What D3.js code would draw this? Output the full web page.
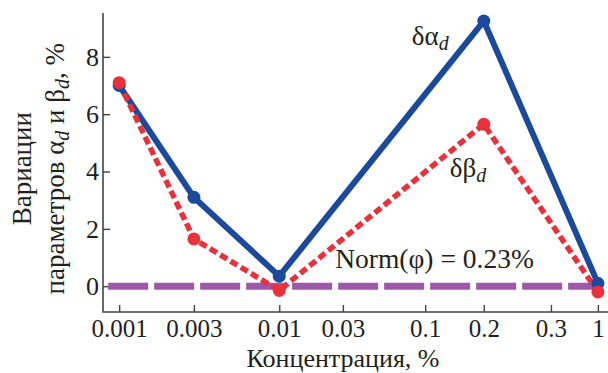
<!DOCTYPE html>
<html>
<head>
<meta charset="utf-8">
<script src="https://cdn.jsdelivr.net/npm/d3@7"></script>
<style>
  body { margin: 0; background: #fff; }
  text { font-family: "Liberation Serif", "Times New Roman", serif; fill: #231f20; }
</style>
</head>
<body>
<div id="chart"></div>
<script>
// концентрации на оси (шкала не равномерная, как в оригинале)
const concTicks = [0.001, 0.003, 0.01, 0.03, 0.1, 0.2, 0.3, 1];
const concTickLabels = ["0.001", "0.003", "0.01", "0.03", "0.1", "0.2", "0.3", "1"];
const concFrac = [0.032, 0.180, 0.349, 0.475, 0.638, 0.754, 0.887, 0.980];

const measuredConc = [0.001, 0.003, 0.01, 0.2, 1];
const deltaAlpha = [7.0, 3.1, 0.35, 9.25, 0.1];
const deltaBeta = [7.1, 1.65, -0.15, 5.65, -0.2];
const normValue = 0;

const yTicks = [0, 2, 4, 6, 8];

const breedte = 608, hoogte = 373;
const rand = { boven: 13, beneden: 61, links: 103, rechts: 0 };
const plotW = breedte - rand.links - rand.rechts;

const svg = d3.select("#chart").append("svg")
    .attr("width", breedte)
    .attr("height", hoogte);

const x = d3.scaleLinear()
    .domain(concTicks)
    .range(concFrac.map(f => rand.links + f * plotW));

const y = d3.scaleLinear()
    .domain([-0.9, 9.53])
    .range([hoogte - rand.beneden, rand.boven]);

// assen
const xAxis = svg.append("g")
    .attr("transform", `translate(0, ${hoogte - rand.beneden})`)
    .call(d3.axisBottom(x).tickValues(concTicks)
        .tickFormat((d, i) => concTickLabels[i])
        .tickSizeInner(-7).tickSizeOuter(0).tickPadding(7));
xAxis.select(".domain").remove();

const yAxis = svg.append("g")
    .attr("transform", `translate(${rand.links}, 0)`)
    .call(d3.axisLeft(y).tickValues(yTicks)
        .tickSizeInner(-7).tickSizeOuter(0).tickPadding(4));
yAxis.select(".domain").remove();

svg.selectAll(".tick line").attr("stroke", "#444").attr("stroke-width", 1.4);
xAxis.selectAll(".tick text").attr("font-size", 25).attr("fill", "#231f20");
yAxis.selectAll(".tick text").attr("font-size", 26).attr("fill", "#231f20");

svg.append("path")
    .attr("d", `M${rand.links},${rand.boven}V${hoogte - rand.beneden}H${breedte}`)
    .attr("fill", "none").attr("stroke", "#444").attr("stroke-width", 1.6);

// norm lijn
svg.append("line")
    .attr("x1", x(concTicks[0]) - 11).attr("x2", x(1))
    .attr("y1", y(normValue)).attr("y2", y(normValue))
    .attr("stroke", "#9c59a7").attr("stroke-width", 7)
    .attr("stroke-dasharray", "40,6");

const lijn = d3.line().x(d => x(d[0])).y(d => y(d[1]));
const alphaPts = measuredConc.map((c, i) => [c, deltaAlpha[i]]);
const betaPts = measuredConc.map((c, i) => [c, deltaBeta[i]]);

svg.append("path").datum(alphaPts)
    .attr("d", lijn).attr("fill", "none")
    .attr("stroke", "#1b4a9d").attr("stroke-width", 6)
    .attr("stroke-linejoin", "round");

svg.append("path").datum(betaPts)
    .attr("d", lijn).attr("fill", "none")
    .attr("stroke", "#e8313b").attr("stroke-width", 5.5)
    .attr("stroke-dasharray", "8,4");

svg.selectAll(".pa").data(alphaPts).enter().append("circle")
    .attr("cx", d => x(d[0])).attr("cy", d => y(d[1]))
    .attr("r", 6.5).attr("fill", "#1b4a9d");

svg.selectAll(".pb").data(betaPts).enter().append("circle")
    .attr("cx", d => x(d[0])).attr("cy", d => y(d[1]))
    .attr("r", 6.5).attr("fill", "#e8313b");

// opschriften
function label(tx, ty, main, sub) {
    const t = svg.append("text").attr("x", tx).attr("y", ty).attr("font-size", 27);
    t.append("tspan").text(main);
    t.append("tspan").text(sub).attr("font-style", "italic")
        .attr("font-size", 20).attr("dy", 5);
}
label(x(0.2) - 72, y(8.4), "δα", "d");
label(x(0.2) - 34, y(3.8), "δβ", "d");

svg.append("text")
    .attr("x", x(0.1) - 90).attr("y", y(0.65))
    .attr("font-size", 27.5)
    .text("Norm(φ) = 0.23%");

svg.append("text")
    .attr("x", 343).attr("y", hoogte - 6)
    .attr("text-anchor", "middle").attr("font-size", 26)
    .text("Концентрация, %");

const yt = svg.append("text")
    .attr("transform", `translate(31, ${y(4.1)}) rotate(-90)`)
    .attr("text-anchor", "middle").attr("font-size", 27);
yt.append("tspan").attr("x", 0).attr("dy", 0).text("Вариации");
const yt2 = yt.append("tspan").attr("x", 0).attr("dy", 33);
yt2.append("tspan").text("параметров α");
yt2.append("tspan").text("d").attr("font-style", "italic").attr("font-size", 20).attr("dy", 5);
yt2.append("tspan").text(" и β").attr("dy", -5);
yt2.append("tspan").text("d").attr("font-style", "italic").attr("font-size", 20).attr("dy", 5);
yt2.append("tspan").text(", %").attr("dy", -5);
</script>
</body>
</html>
